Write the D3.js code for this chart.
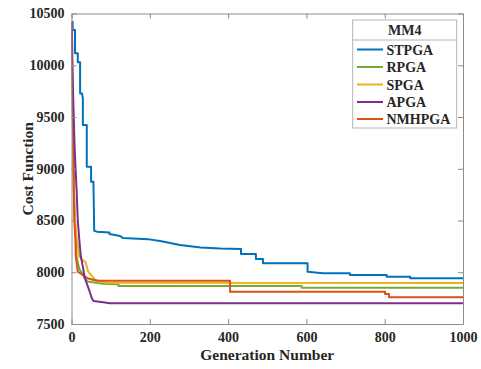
<!DOCTYPE html>
<html><head><meta charset="utf-8">
<script src="https://cdn.jsdelivr.net/npm/d3@7"></script>
<style>body{margin:0;background:#fff}svg{display:block}</style>
</head><body>
<script>
const xTicks = [0, 200, 400, 600, 800, 1000];
const yTicks = [7500, 8000, 8500, 9000, 9500, 10000, 10500];
const legendTitle = "MM4";
const seriesNames = ["STPGA", "RPGA", "SPGA", "APGA", "NMHPGA"];
const seriesColors = ["#0072BD", "#77AC30", "#EDB120", "#7E2F8E", "#D95319"];

const stpga = [[1,10420],[3,10420],[3,10340],[9,10340],[9,10115],[16,10115],[16,10030],[22,10030],[22,9726],[27,9726],[29,9680],[29,9423],[39,9423],[39,9020],[50,9020],[50,8875],[56,8875],[58,8401],[65,8392],[97,8384],[97,8370],[124,8350],[132,8330],[195,8320],[230,8300],[277,8263],[330,8240],[380,8230],[433,8224],[433,8176],[471,8176],[471,8128],[489,8128],[489,8087],[603,8087],[603,8005],[642,7990],[711,7990],[711,7973],[805,7973],[805,7957],[865,7957],[865,7942],[1000,7942]];
const rpga = [[1,10300],[2,9800],[4,9300],[6,8800],[9,8500],[11,8312],[13,8150],[20,8030],[33,7950],[41,7910],[77,7890],[120,7885],[120,7868],[588,7868],[588,7851],[1000,7851]];
const spga = [[1,10300],[2,9800],[4,9300],[6,8800],[9,8500],[14,8312],[20,8150],[29,8115],[36,8100],[42,8010],[50,7975],[58,7935],[73,7909],[90,7899],[1000,7897]];
const apga = [[1,10420],[2,10000],[5,9600],[8,9200],[13,8795],[16,8505],[20,8312],[24,8150],[29,8054],[34,7942],[45,7829],[52,7748],[56,7722],[81,7710],[98,7700],[1000,7700]];
const nmhpga = [[1,10420],[2,10000],[3,9600],[5,9200],[6,8795],[7,8505],[10,8312],[11,8150],[16,8005],[29,7974],[41,7942],[64,7918],[405,7918],[405,7812],[801,7812],[801,7790],[811,7790],[811,7758],[1000,7758]];
const seriesData = [stpga, rpga, spga, apga, nmhpga];

const W = 481, H = 369;
const L = 71.5, R = 463, T = 13.5, B = 324;
const svg = d3.select("body").append("svg").attr("width", W).attr("height", H);
svg.append("rect").attr("width", W).attr("height", H).attr("fill", "#fff");

const x = d3.scaleLinear().domain([0, 1000]).range([L, R]);
const y = d3.scaleLinear().domain([7500, 10500]).range([B, T]);
const font = "'Liberation Serif','Times New Roman',serif";
const axisCol = "#8c8c8c", textCol = "#262626";

svg.append("clipPath").attr("id", "clip").append("rect")
  .attr("x", L).attr("y", T).attr("width", R - L).attr("height", B - T);

const g = svg.append("g").attr("clip-path", "url(#clip)");
const line = d3.line().x(d => x(d[0])).y(d => y(d[1]));
const order = [0, 1, 2, 4, 3];
order.forEach(i => {
  g.append("path").datum(seriesData[i]).attr("d", line)
    .attr("fill", "none").attr("stroke", seriesColors[i]).attr("stroke-width", 2)
    .attr("stroke-linejoin", "round");
});

// axes
function styleAxis(sel) {
  sel.select(".domain").attr("stroke", axisCol);
  sel.selectAll(".tick line").attr("stroke", axisCol);
  sel.selectAll("text").attr("fill", textCol).attr("font-family", font)
    .attr("font-weight", "bold").attr("font-size", 14);
}
const tl = 5;
svg.append("g").attr("transform", `translate(0,${B})`)
  .call(d3.axisBottom(x).tickValues(xTicks).tickSize(-tl).tickSizeOuter(0).tickPadding(8).tickFormat(d3.format("d")))
  .call(styleAxis);
svg.append("g").attr("transform", `translate(0,${T})`)
  .call(d3.axisTop(x).tickValues(xTicks).tickSize(-tl).tickSizeOuter(0).tickFormat(""))
  .call(styleAxis);
svg.append("g").attr("transform", `translate(${L},0)`)
  .call(d3.axisLeft(y).tickValues(yTicks).tickSize(-tl).tickSizeOuter(0).tickPadding(7).tickFormat(d3.format("d")))
  .call(styleAxis);
svg.append("g").attr("transform", `translate(${R},0)`)
  .call(d3.axisRight(y).tickValues(yTicks).tickSize(-tl).tickSizeOuter(0).tickFormat(""))
  .call(styleAxis);

// axis labels
svg.append("text").attr("x", (L + R) / 2).attr("y", 360)
  .attr("text-anchor", "middle").attr("font-family", font).attr("font-weight", "bold")
  .attr("font-size", 15.5).attr("fill", textCol).text("Generation Number");
svg.append("text").attr("transform", `translate(33,${(T + B) / 2}) rotate(-90)`)
  .attr("text-anchor", "middle").attr("font-family", font).attr("font-weight", "bold")
  .attr("font-size", 15.5).attr("fill", textCol).text("Cost Function");

// legend
const lx = 352.7, ly = 20, lw = 104, lh = 108;
const lg = svg.append("g");
lg.append("rect").attr("x", lx).attr("y", ly).attr("width", lw).attr("height", lh)
  .attr("fill", "#fff").attr("stroke", "#b4b4b4").attr("stroke-width", 1);
lg.append("line").attr("x1", lx).attr("x2", lx + lw).attr("y1", 40).attr("y2", 40)
  .attr("stroke", "#b4b4b4");
lg.append("text").attr("x", lx + lw / 2).attr("y", 35).attr("text-anchor", "middle")
  .attr("font-family", font).attr("font-weight", "bold").attr("font-size", 14)
  .attr("fill", textCol).text(legendTitle);
const rowY = [49.5, 67, 84.5, 102, 119];
seriesNames.forEach((n, i) => {
  lg.append("line").attr("x1", 357).attr("x2", 383).attr("y1", rowY[i]).attr("y2", rowY[i])
    .attr("stroke", seriesColors[i]).attr("stroke-width", 2);
  lg.append("text").attr("x", 386.5).attr("y", rowY[i] + 5)
    .attr("font-family", font).attr("font-weight", "bold").attr("font-size", 14)
    .attr("fill", textCol).text(n);
});
</script>
</body></html>
